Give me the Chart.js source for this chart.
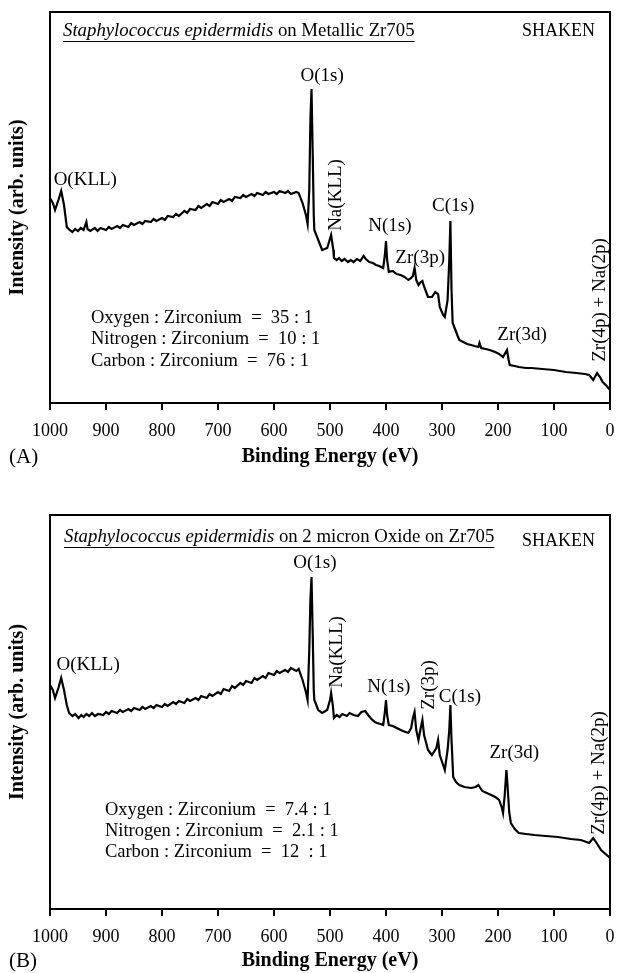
<!DOCTYPE html>
<html>
<head>
<meta charset="utf-8">
<script src="https://cdn.jsdelivr.net/npm/chart.js@4.4.1/dist/chart.umd.min.js"></script>
<style>
  html, body { margin: 0; padding: 0; background: #fff; }
  .panel { position: absolute; left: 0; width: 617px; }
  #wrapA { top: 0; height: 486px; }
  #wrapB { top: 486px; height: 487px; }
</style>
</head>
<body>
<div class="panel" id="wrapA"><canvas id="chartA" width="617" height="486"></canvas></div>
<div class="panel" id="wrapB"><canvas id="chartB" width="617" height="487"></canvas></div>
<script>
// binding energy (eV) and intensity (arb. units)
var energyA = [1000, 995, 991, 985, 980, 975, 970, 965, 960, 955, 950, 945, 940, 935, 933, 928, 920, 915, 910, 900,
    895, 890, 880, 875, 870, 860, 855, 850, 840, 835, 830, 820, 815, 810, 800, 795, 790, 780, 775, 770,
    760, 755, 750, 740, 735, 730, 720, 715, 710, 700, 695, 690, 680, 675, 670, 660, 655, 650, 640, 635,
    630, 620, 615, 610, 600, 595, 590, 580, 575, 570, 560, 556, 549, 543, 540, 537, 535, 533, 531, 529,
    528, 521, 514, 505, 498, 494, 493, 488, 484, 479, 474, 468, 463, 458, 452, 446, 440, 436, 430, 423,
    418, 412, 405, 402, 400, 398, 395, 388, 381, 374, 367, 360, 355, 352, 349, 346, 342, 338, 335, 333,
    329, 325, 318, 312, 307, 304, 298, 295, 290, 287, 285, 283, 281, 276, 272, 269, 262, 255, 248, 242,
    235, 233, 230, 222, 215, 205, 198, 191, 186, 184, 181, 179, 170, 163, 150, 140, 121, 100, 79, 60,
    45, 37, 30, 23, 18, 13, 6, 0];
var intensityA = [205, 200, 193, 203, 212, 198, 176, 173, 171, 174, 172, 175, 173, 181, 174, 172, 175, 172, 175, 173,
    176, 174, 177, 175, 178, 176, 180, 178, 181, 179, 182, 181, 184, 182, 185, 183, 187, 186, 189, 187,
    192, 190, 194, 193, 197, 195, 199, 197, 201, 199, 203, 201, 204, 202, 206, 205, 208, 206, 209, 207,
    210, 208, 211, 209, 211, 209, 212, 210, 212, 209, 211, 210, 200, 188, 179, 213, 283, 314, 253, 188,
    173, 163, 153, 155, 168, 153, 145, 143, 145, 142, 144, 141, 143, 141, 144, 142, 147, 144, 141, 140,
    138, 137, 135, 148, 162, 143, 131, 132, 129, 128, 126, 123, 125, 127, 135, 123, 118, 121, 122, 118,
    112, 106, 106, 111, 109, 96, 88, 86, 103, 143, 182, 113, 80, 73, 67, 63, 61, 59, 58, 57,
    56, 60, 55, 54, 53, 51, 49, 46, 51, 53, 43, 38, 37, 36, 35, 35, 34, 33, 31, 30,
    29, 28, 23, 30, 26, 21, 17, 13];

var energyB = [1000, 995, 991, 985, 980, 975, 970, 966, 960, 955, 949, 944, 940, 935, 930, 925, 920, 914, 905, 900,
    895, 890, 880, 875, 870, 860, 855, 850, 840, 835, 830, 820, 815, 810, 800, 795, 790, 780, 775, 770,
    760, 755, 750, 740, 735, 730, 720, 715, 710, 700, 695, 690, 680, 675, 670, 660, 655, 650, 640, 635,
    630, 620, 615, 610, 600, 595, 590, 580, 575, 570, 560, 556, 549, 543, 540, 537, 535, 533, 531, 529,
    528, 521, 514, 505, 500, 498, 495, 493, 488, 483, 478, 470, 465, 458, 450, 444, 437, 432, 426, 420,
    416, 410, 405, 402, 400, 398, 395, 388, 381, 370, 360, 355, 352, 349, 346, 342, 338, 335, 332, 325,
    318, 310, 307, 304, 298, 295, 290, 287, 285, 283, 280, 275, 269, 260, 248, 240, 235, 228, 220, 212,
    205, 198, 193, 191, 188, 185, 183, 180, 177, 170, 163, 150, 135, 115, 93, 70, 52, 37, 30, 25,
    16, 8, 0];
var intensityB = [224, 219, 211, 221, 231, 219, 204, 196, 193, 195, 191, 194, 192, 195, 193, 196, 193, 195, 194, 197,
    195, 198, 196, 199, 197, 200, 198, 201, 199, 202, 200, 203, 201, 204, 202, 205, 203, 207, 205, 208,
    206, 210, 208, 211, 209, 213, 211, 215, 213, 217, 215, 220, 218, 223, 221, 226, 224, 228, 226, 231,
    229, 233, 231, 236, 234, 238, 236, 239, 237, 241, 238, 240, 229, 217, 209, 259, 309, 332, 279, 219,
    209, 199, 196, 199, 209, 216, 204, 191, 194, 192, 195, 193, 196, 194, 193, 197, 198, 194, 190, 187,
    186, 185, 184, 197, 209, 194, 184, 183, 181, 178, 176, 181, 191, 197, 179, 169, 181, 189, 174, 159,
    154, 161, 169, 154, 144, 139, 159, 179, 204, 169, 132, 127, 124, 122, 121, 122, 124, 118, 116, 114,
    112, 109, 101, 96, 114, 139, 124, 97, 86, 80, 76, 75, 74, 73, 72, 70, 69, 66, 71, 67,
    59, 55, 51];

var energyTicks = [1000, 900, 800, 700, 600, 500, 400, 300, 200, 100, 0];

var ratioNames = ['Oxygen : Zirconium', 'Nitrogen : Zirconium', 'Carbon : Zirconium'];
var ratiosA = ['35 : 1', '10 : 1', '76 : 1'];
var ratiosB = ['7.4 : 1', '2.1 : 1', '12  : 1'];

var serif = '"Liberation Serif", "Times New Roman", serif';

function toPoints(xs, ys) {
    var out = [];
    for (var i = 0; i < xs.length; i++) {
        out.push({ x: xs[i], y: ys[i] });
    }
    return out;
}

// frame, peak labels, ratios, title line and panel letter
var notesPlugin = {
    id: 'notes',
    afterDraw: function (chart, args, o) {
        var ctx = chart.ctx, a = chart.chartArea, sx = chart.scales.x, sy = chart.scales.y;
        ctx.save();
        ctx.strokeStyle = '#000';
        ctx.lineWidth = 2;
        ctx.strokeRect(a.left, a.top, a.right - a.left, a.bottom - a.top);

        ctx.fillStyle = '#000';
        ctx.textBaseline = 'middle';
        ctx.font = '19px ' + serif;
        o.peaks.forEach(function (p) {
            ctx.save();
            ctx.translate(sx.getPixelForValue(p.e), sy.getPixelForValue(p.v));
            if (p.turn) ctx.rotate(-Math.PI / 2);
            ctx.textAlign = 'center';
            ctx.fillText(p.text, 0, 0);
            ctx.restore();
        });

        ctx.font = '18.5px ' + serif;
        ctx.textAlign = 'left';
        var rx = sx.getPixelForValue(o.ratioAt.e);
        for (var i = 0; i < ratioNames.length; i++) {
            var ry = sy.getPixelForValue(o.ratioAt.v) + i * o.ratioStep;
            ctx.fillText(ratioNames[i] + '  =  ' + o.ratios[i], rx, ry);
        }

        // underlined title
        var tx = a.left + o.titleDx, ty = a.top + o.titleDy;
        ctx.font = 'italic 18.8px ' + serif;
        ctx.fillText(o.titleItalic, tx, ty);
        var w1 = ctx.measureText(o.titleItalic).width;
        ctx.font = '18.8px ' + serif;
        ctx.fillText(o.titleRest, tx + w1, ty);
        var w2 = ctx.measureText(o.titleRest).width;
        ctx.lineWidth = 1;
        ctx.beginPath();
        ctx.moveTo(tx, ty + 10.5);
        ctx.lineTo(tx + w1 + w2, ty + 10.5);
        ctx.stroke();

        ctx.font = '18px ' + serif;
        ctx.textAlign = 'right';
        ctx.fillText('SHAKEN', a.right - 15, a.top + o.shakenDy);

        ctx.textAlign = 'left';
        ctx.font = '21px ' + serif;
        ctx.fillText(o.letter, 9, o.letterY);
        ctx.restore();
    }
};

function makeChart(id, xs, ys, yMax, topPad, xHeight, titlePad, notes) {
    return new Chart(document.getElementById(id), {
        type: 'line',
        data: {
            datasets: [{
                data: toPoints(xs, ys),
                borderColor: '#000',
                borderWidth: 2.2,
                pointRadius: 0,
                tension: 0,
                fill: false
            }]
        },
        options: {
            responsive: false,
            animation: false,
            devicePixelRatio: 1,
            layout: { padding: { top: topPad, right: 0, left: 0, bottom: 0 } },
            plugins: {
                legend: { display: false },
                tooltip: { enabled: false },
                notes: notes
            },
            scales: {
                x: {
                    type: 'linear',
                    reverse: true,
                    min: 0,
                    max: 1000,
                    afterBuildTicks: function (s) {
                        s.ticks = energyTicks.map(function (v) { return { value: v }; });
                    },
                    afterFit: function (s) {
                        s.height = xHeight;
                        s.paddingLeft = 0;
                        s.paddingRight = 7;
                    },
                    ticks: {
                        autoSkip: false,
                        maxRotation: 0,
                        padding: 10,
                        color: '#000',
                        font: { family: serif, size: 18 },
                        callback: function (v) { return String(v); }
                    },
                    grid: {
                        drawOnChartArea: false,
                        drawTicks: true,
                        tickLength: 7,
                        color: '#000',
                        lineWidth: 2
                    },
                    border: { display: true, color: '#000', width: 2 },
                    title: {
                        display: true,
                        text: 'Binding Energy (eV)',
                        color: '#000',
                        font: { family: serif, size: 20, weight: 'bold' },
                        padding: { top: 0, bottom: titlePad }
                    }
                },
                y: {
                    min: 0,
                    max: yMax,
                    afterFit: function (s) { s.width = 50; },
                    ticks: { display: false },
                    grid: { display: false },
                    border: { display: false },
                    title: {
                        display: true,
                        text: 'Intensity (arb. units)',
                        color: '#000',
                        font: { family: serif, size: 20, weight: 'bold' },
                        padding: { top: 6, bottom: 0 }
                    }
                }
            }
        },
        plugins: [notesPlugin]
    });
}

var chartA = makeChart('chartA', energyA, intensityA, 391, 12, 83, 17, {
    peaks: [
        { text: 'O(KLL)', e: 937, v: 223 },
        { text: 'O(1s)', e: 514, v: 327 },
        { text: 'Na(KLL)', e: 489, v: 208, turn: true },
        { text: 'N(1s)', e: 393, v: 177 },
        { text: 'Zr(3p)', e: 339, v: 145 },
        { text: 'C(1s)', e: 280, v: 197 },
        { text: 'Zr(3d)', e: 157, v: 68 },
        { text: 'Zr(4p) + Na(2p)', e: 18, v: 103, turn: true }
    ],
    ratios: ratiosA,
    ratioAt: { e: 927, v: 85 },
    ratioStep: 21.5,
    titleItalic: 'Staphylococcus epidermidis',
    titleRest: ' on Metallic Zr705',
    titleDx: 13,
    titleDy: 19,
    shakenDy: 19,
    letter: '(A)',
    letterY: 457
});

var chartB = makeChart('chartB', energyB, intensityB, 394, 29, 64, 0, {
    peaks: [
        { text: 'O(KLL)', e: 932, v: 244 },
        { text: 'O(1s)', e: 527, v: 346 },
        { text: 'Na(KLL)', e: 487, v: 257, turn: true },
        { text: 'N(1s)', e: 395, v: 222 },
        { text: 'Zr(3p)', e: 323, v: 224, turn: true },
        { text: 'C(1s)', e: 268, v: 212 },
        { text: 'Zr(3d)', e: 171, v: 156 },
        { text: 'Zr(4p) + Na(2p)', e: 20, v: 136, turn: true }
    ],
    ratios: ratiosB,
    ratioAt: { e: 902, v: 99 },
    ratioStep: 21,
    titleItalic: 'Staphylococcus epidermidis',
    titleRest: ' on 2 micron Oxide on Zr705',
    titleDx: 14,
    titleDy: 22,
    shakenDy: 26,
    letter: '(B)',
    letterY: 475
});
</script>
</body>
</html>
